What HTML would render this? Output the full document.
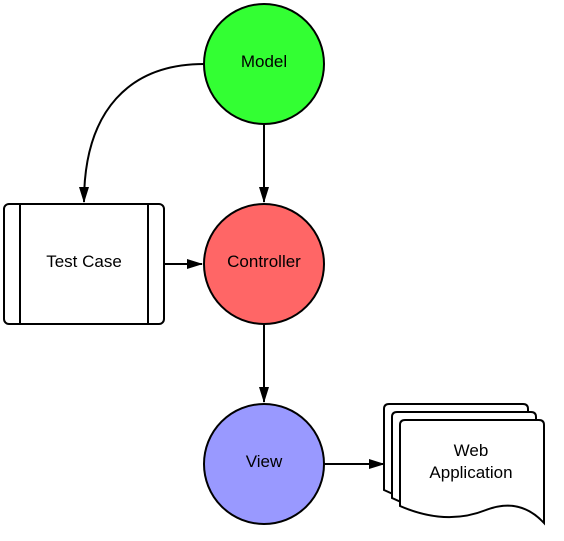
<!DOCTYPE html>
<html><head><style>body{margin:0;background:#fff}svg{display:block}</style></head><body>
<svg width="564" height="541" viewBox="0 0 564 541" xmlns="http://www.w3.org/2000/svg" font-family="Liberation Sans, sans-serif" font-size="17">
<defs><marker id="a" markerWidth="16" markerHeight="12" refX="15" refY="6" orient="auto" markerUnits="userSpaceOnUse"><path d="M0,1 L16,6 L0,11 z" fill="#000"/></marker></defs>
<g stroke="#000" stroke-width="2" fill="none">
<path d="M204 64 C130 64 84 110 84 202" marker-end="url(#a)"/>
<path d="M264 124 L264 202" marker-end="url(#a)"/>
<path d="M164 264 L202 264" marker-end="url(#a)"/>
<path d="M264 324 L264 402" marker-end="url(#a)"/>
<path d="M324 464 L384 464" marker-end="url(#a)"/>
</g>
<g stroke="#000" stroke-width="2">
<circle cx="264" cy="64" r="60" fill="#33ff33"/>
<circle cx="264" cy="264" r="60" fill="#ff6666"/>
<circle cx="264" cy="464" r="60" fill="#9999ff"/>
<rect x="4" y="204" width="160" height="120" rx="5" fill="#fff"/>
<line x1="20" y1="204" x2="20" y2="324"/>
<line x1="148" y1="204" x2="148" y2="324"/>
<path d="M389 404 H523 Q528 404 528 409 V505 Q500 490 470 500 Q430 512 384 490 V409 Q384 404 389 404 z" fill="#fff"/>
<path d="M397 412 H531 Q536 412 536 417 V513 Q508 498 478 508 Q438 520 392 498 V417 Q392 412 397 412 z" fill="#fff"/>
<path d="M405 420 H539 Q544 420 544 425 V523 Q520 497 486 510 Q446 526 400 506 V425 Q400 420 405 420 z" fill="#fff"/>
</g>
<g text-anchor="middle" fill="#000">
<text x="264" y="67">Model</text>
<text x="264" y="267">Controller</text>
<text x="264" y="467">View</text>
<text x="84" y="267">Test Case</text>
<text x="471" y="456">Web</text>
<text x="471" y="478">Application</text>
</g>
</svg>
</body></html>
